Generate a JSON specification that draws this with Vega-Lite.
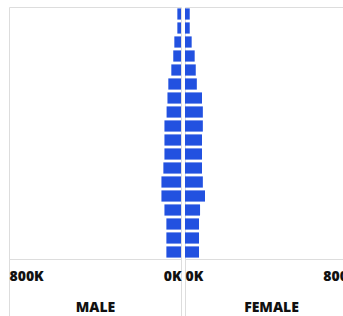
{
  "$schema": "https://vega.github.io/schema/vega-lite/v6.json",
  "padding": {"left": 8, "top": 6, "right": 0, "bottom": 0},
  "spacing": 2,
  "data": {"values": [
    {"age": "85+", "male": 17000, "female": 22000},
    {"age": "80-84", "male": 17000, "female": 22000},
    {"age": "75-79", "male": 31000, "female": 31000},
    {"age": "70-74", "male": 36000, "female": 45000},
    {"age": "65-69", "male": 45000, "female": 50000},
    {"age": "60-64", "male": 59000, "female": 55000},
    {"age": "55-59", "male": 63000, "female": 79000},
    {"age": "50-54", "male": 67000, "female": 83000},
    {"age": "45-49", "male": 77000, "female": 83000},
    {"age": "40-44", "male": 77000, "female": 79000},
    {"age": "35-39", "male": 77000, "female": 79000},
    {"age": "30-34", "male": 82000, "female": 79000},
    {"age": "25-29", "male": 91000, "female": 83000},
    {"age": "20-24", "male": 91000, "female": 93000},
    {"age": "15-19", "male": 77000, "female": 70000},
    {"age": "10-14", "male": 68000, "female": 65000},
    {"age": "5-9", "male": 68000, "female": 65000},
    {"age": "0-4", "male": 68000, "female": 65000}
  ]},
  "config": {
    "view": {"stroke": "#dddddd"},
    "axisX": {
      "labelFont": "Open Sans",
      "labelFontWeight": 800,
      "labelFontSize": 14,
      "labelColor": "#111111",
      "domainColor": "#dddddd",
      "tickColor": "#dddddd",
      "tickSize": 57,
      "labelPadding": -47,
      "grid": false,
      "titleFont": "Open Sans",
      "titleFontWeight": 800,
      "titleFontSize": 14,
      "titleColor": "#111111",
      "titleBaseline": "alphabetic",
      "titleY": 52
    }
  },
  "hconcat": [
    {
      "width": 172,
      "height": 252,
      "mark": {"type": "bar", "color": "#2251e0"},
      "encoding": {
        "y": {"field": "age", "type": "nominal", "sort": null, "axis": null,
              "scale": {"paddingInner": 0.2, "paddingOuter": 0.1}},
        "x": {"field": "male", "type": "quantitative", "title": "MALE",
              "axis": {"values": [0, 800000], "labelExpr": "datum.value / 1000 + 'K'"},
              "scale": {"domain": [0, 800000], "reverse": true, "nice": false}}
      }
    },
    {
      "width": 172,
      "height": 252,
      "mark": {"type": "bar", "color": "#2251e0"},
      "encoding": {
        "y": {"field": "age", "type": "nominal", "sort": null, "axis": null,
              "scale": {"paddingInner": 0.2, "paddingOuter": 0.1}},
        "x": {"field": "female", "type": "quantitative", "title": "FEMALE",
              "axis": {"values": [0, 800000], "labelExpr": "datum.value / 1000 + 'K'"},
              "scale": {"domain": [0, 800000], "nice": false}}
      }
    }
  ]
}
